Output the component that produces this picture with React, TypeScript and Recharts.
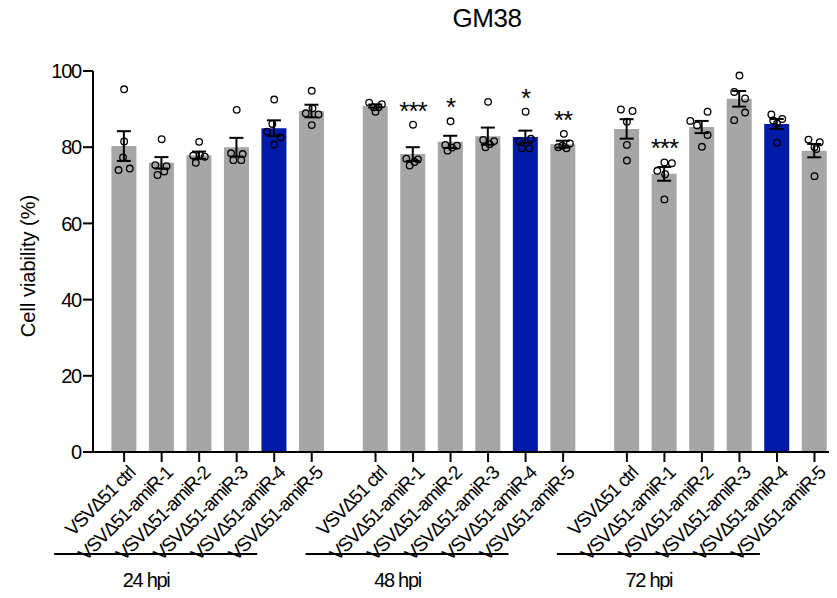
import { ComposedChart, Bar, Scatter, XAxis, YAxis, ErrorBar, Cell } from "recharts";

/* ── data ── */
const TITLE = "GM38";
const Y_LABEL = "Cell viability (%)";
const groups = ["24 hpi", "48 hpi", "72 hpi"];
const viruses = [
  "VSVΔ51 ctrl",
  "VSVΔ51-amiR-1",
  "VSVΔ51-amiR-2",
  "VSVΔ51-amiR-3",
  "VSVΔ51-amiR-4",
  "VSVΔ51-amiR-5",
];
const highlight = "VSVΔ51-amiR-4";
const yTicks = [0, 20, 40, 60, 80, 100];

const means = [
  [80.3, 75.9, 77.9, 80.0, 85.0, 89.5],
  [90.8, 78.2, 81.4, 82.9, 82.7, 80.8],
  [84.8, 73.0, 85.3, 92.7, 86.1, 79.1],
];
const sems = [
  [3.9, 1.5, 0.95, 2.45, 2.05, 1.65],
  [0.4, 1.8, 1.6, 2.25, 1.65, 0.9],
  [2.55, 1.8, 1.6, 2.05, 1.3, 1.75],
];
// individual replicates
const points = [
  [
    [95.2, 81.5, 77.3, 74.0, 74.4],
    [82.1, 75.3, 75.0, 72.7, 73.6],
    [81.4, 77.8, 77.5, 75.9, 78.0],
    [89.8, 78.4, 78.2, 76.6, 76.6],
    [92.5, 86.1, 84.1, 82.6, 80.7],
    [94.8, 88.9, 88.6, 90.2, 85.8],
  ],
  [
    [91.7, 91.3, 89.3, 90.5, 90.5],
    [85.9, 77.0, 76.8, 75.2, 76.1],
    [86.8, 80.6, 80.4, 79.1, 79.9],
    [91.9, 81.9, 81.6, 80.0, 80.8],
    [89.3, 82.2, 81.5, 79.7, 79.7],
    [83.5, 81.0, 80.0, 79.7, 80.4],
  ],
  [
    [89.9, 89.5, 86.7, 80.6, 76.5],
    [76.0, 75.8, 73.8, 72.9, 66.3],
    [89.3, 86.9, 85.7, 83.2, 80.1],
    [98.8, 94.5, 92.8, 89.1, 87.1],
    [88.6, 87.4, 86.2, 87.0, 81.2],
    [82.0, 81.3, 80.0, 79.5, 72.4],
  ],
];
// horizontal scatter of the replicates (fraction of a bar slot)
const jitter = [
  [
    [0, 0, -0.03, -0.15, 0.15],
    [0, -0.17, 0.13, -0.11, 0.07],
    [0, -0.16, 0.15, -0.09, 0.02],
    [0, -0.15, 0.16, -0.09, 0.12],
    [0, -0.05, -0.19, 0.17, 0],
    [0, -0.16, 0.18, 0.02, 0],
  ],
  [
    [-0.17, 0.17, 0, -0.05, 0.08],
    [0, -0.18, 0.13, -0.09, 0.04],
    [0, -0.14, 0.17, -0.08, 0.04],
    [0, -0.13, 0.16, -0.07, 0.04],
    [0, 0.14, -0.17, -0.1, 0.1],
    [0.02, 0.18, -0.13, 0.09, -0.02],
  ],
  [
    [-0.16, 0.15, 0, 0, 0],
    [0, 0.2, -0.19, 0.02, 0],
    [0.15, -0.31, -0.13, 0.15, 0],
    [0, -0.14, 0.15, 0.15, -0.14],
    [-0.15, 0.14, 0, -0.1, 0],
    [-0.16, 0.14, 0, 0.05, 0],
  ],
];
const stars = [
  ["", "", "", "", "", ""],
  ["", "***", "*", "", "*", "**"],
  ["", "***", "", "", "", ""],
];

/* ── layout ── */
const C = { gray: "#A6A6A6", blue: "#001AA8", ink: "#000000" };
const FONT = "Arial, 'Liberation Sans', sans-serif";
const GROUP_STEP = 6.7;
const X_DOMAIN = [-0.83, 19];
const pos = (g: number, i: number) => g * GROUP_STEP + i;

const bars: any[] = [];
const dots: any[] = [];
const notes: any[] = [];
groups.forEach((_, g) =>
  viruses.forEach((v, i) => {
    bars.push({ x: pos(g, i), mean: means[g][i], sem: sems[g][i], name: v });
    points[g][i].forEach((p, k) => dots.push({ x: pos(g, i) + jitter[g][i][k], y: p }));
    if (stars[g][i]) notes.push({ x: pos(g, i), y: Math.max(...points[g][i]), label: stars[g][i] });
  })
);
const xTicks = bars.map((b) => b.x);

const XTick = ({ x, y, payload }: any) => {
  const idx = xTicks.indexOf(payload.value);
  const i = idx % viruses.length;
  const g = Math.floor(idx / viruses.length);
  const ax = x + 12;
  const ay = y + 12;
  return (
    <g>
      <text
        x={ax}
        y={ay}
        transform={`rotate(-45 ${ax} ${ay})`}
        textAnchor="end"
        fontSize={19}
        letterSpacing={-1.2}
        fontFamily={FONT}
        fill={C.ink}
      >
        {viruses[i]}
      </text>
      {i === 0 && (
        <g>
          <line x1={x - 70} x2={x + 133} y1={y + 92} y2={y + 92} stroke={C.ink} strokeWidth={2} />
          <text
            x={x + 22}
            y={y + 125}
            textAnchor="middle"
            fontSize={20}
            letterSpacing={-1.3}
            fontFamily={FONT}
            fill={C.ink}
          >
            {groups[g]}
          </text>
        </g>
      )}
    </g>
  );
};

const Dot = ({ cx, cy }: any) => (
  <circle cx={cx} cy={cy} r={3.3} fill="none" stroke={C.ink} strokeWidth={1.3} />
);

const Star = ({ cx, cy, payload }: any) => (
  <text x={cx} y={cy - 5} textAnchor="middle" fontSize={26} letterSpacing={-1} fontFamily={FONT} fill={C.ink}>
    {payload.label}
  </text>
);

export default function App() {
  return (
    <div style={{ margin: -8, width: 837, height: 598, background: "#fff" }}>
      <ComposedChart
        width={837}
        height={598}
        data={bars}
        margin={{ top: 71, right: 0, bottom: 16, left: 0 }}
      >
        <text x={487} y={27} textAnchor="middle" fontSize={26} letterSpacing={-0.5} fontFamily={FONT} fill={C.ink}>
          {TITLE}
        </text>
        <text
          x={35}
          y={266}
          transform="rotate(-90 35 266)"
          textAnchor="middle"
          fontSize={20}
          fontFamily={FONT}
          fill={C.ink}
        >
          {Y_LABEL}
        </text>
        <XAxis
          dataKey="x"
          type="number"
          domain={X_DOMAIN}
          ticks={xTicks}
          interval={0}
          height={130}
          tickSize={10}
          tickMargin={0}
          axisLine={{ stroke: C.ink, strokeWidth: 2 }}
          tickLine={{ stroke: C.ink, strokeWidth: 2 }}
          tick={<XTick />}
          allowDataOverflow
        />
        <XAxis xAxisId="pts" dataKey="x" type="number" domain={X_DOMAIN} hide allowDataOverflow />
        <YAxis
          type="number"
          domain={[0, 100]}
          ticks={yTicks}
          width={93}
          tickSize={10}
          tickMargin={2}
          axisLine={{ stroke: C.ink, strokeWidth: 2 }}
          tickLine={{ stroke: C.ink, strokeWidth: 2 }}
          tick={{ fontSize: 20, letterSpacing: -1.2, fontFamily: FONT, fill: C.ink }}
        />
        <Bar dataKey="mean" barSize={25} isAnimationActive={false}>
          {bars.map((b, k) => (
            <Cell key={k} fill={b.name === highlight ? C.blue : C.gray} />
          ))}
          <ErrorBar dataKey="sem" width={7} stroke={C.ink} strokeWidth={2} direction="y" />
        </Bar>
        <Scatter xAxisId="pts" data={dots} dataKey="y" shape={<Dot />} isAnimationActive={false} />
        <Scatter xAxisId="pts" data={notes} dataKey="y" shape={<Star />} isAnimationActive={false} />
      </ComposedChart>
    </div>
  );
}
